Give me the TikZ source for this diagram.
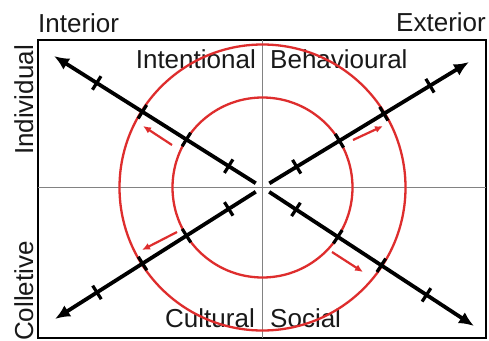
\documentclass[tikz,border=0pt]{standalone}
\usepackage{fontspec}
\setmainfont{Liberation Sans}
\usetikzlibrary{arrows.meta,calc}
\definecolor{ringred}{RGB}{222,45,45}
\definecolor{axisgray}{RGB}{130,130,130}
\begin{document}
\begin{tikzpicture}[x=1pt,y=-1pt,
  lab/.style={font=\fontsize{26}{29}\selectfont, text=black!90, inner sep=0pt},
  frame/.style={draw=black, line width=2.4pt},
  guide/.style={draw=axisgray, line width=1pt},
  ring/.style={draw=ringred, line width=2.3pt},
  mainarrow/.style={draw=black, line width=3.8pt, -{Latex[length=15pt,width=13pt]}},
  tickmark/.style={draw=black, line width=3.2pt},
  redarrow/.style={draw=ringred, line width=2.2pt, -{Latex[length=8pt,width=7pt]}}]
\useasboundingbox (0,0) rectangle (489,340);
\fill[white] (0,0) rectangle (489,340);
% frame and guides
\draw[frame] (38,40) rectangle (486,338);
\coordinate (C) at (262.5,187.5);
\coordinate (top) at (262.5,40);
\coordinate (bot) at (262.5,338);
\coordinate (lft) at (38,187.5);
\coordinate (rgt) at (486,187.5);
\draw[guide] (top) -- (bot);
\draw[guide] (lft) -- (rgt);
% labels
\node[lab, anchor=base west] (interior) at (38,32) {Interior};
\node[lab, anchor=base east] (exterior) at (486,31) {Exterior};
\node[lab, rotate=90, anchor=base] (individual) at (33,100) {Individual};
\node[lab, rotate=90, anchor=base] (collective) at (33,291) {Colletive};
\node[lab, anchor=base east] (intentional) at (256,68) {Intentional};
\node[lab, anchor=base west] (behavioural) at (270,68) {Behavioural};
\node[lab, anchor=base east] (cultural) at (255,327) {Cultural};
\node[lab, anchor=base west] (social) at (270,327) {Social};
% rings
\draw[ring] (C) circle[radius=90];
\draw[ring] (C) circle[radius=143];
% main arrows
\coordinate (ul) at (54,56);
\coordinate (ur) at (469,62);
\coordinate (ll) at (55,319);
\coordinate (lr) at (474,326);
\foreach \t in {ul,ur,ll,lr} {
  \draw[mainarrow] ($(C)!8pt!(\t)$) -- (\t);
  \foreach \d in {40,90,142,196} {
    \coordinate (p) at ($(C)!\d pt!(\t)$);
    \draw[tickmark] ($(p)!8pt!90:(\t)$) -- ($(p)!8pt!-90:(\t)$);
  }
}
% red arrows
\coordinate (a1) at (172,145); \coordinate (b1) at (143,126);
\coordinate (a2) at (353,140); \coordinate (b2) at (383,126);
\coordinate (a3) at (177,232); \coordinate (b3) at (142,250);
\coordinate (a4) at (332,252); \coordinate (b4) at (363,272);
\draw[redarrow] (a1) -- (b1);
\draw[redarrow] (a2) -- (b2);
\draw[redarrow] (a3) -- (b3);
\draw[redarrow] (a4) -- (b4);
\end{tikzpicture}
\end{document}
